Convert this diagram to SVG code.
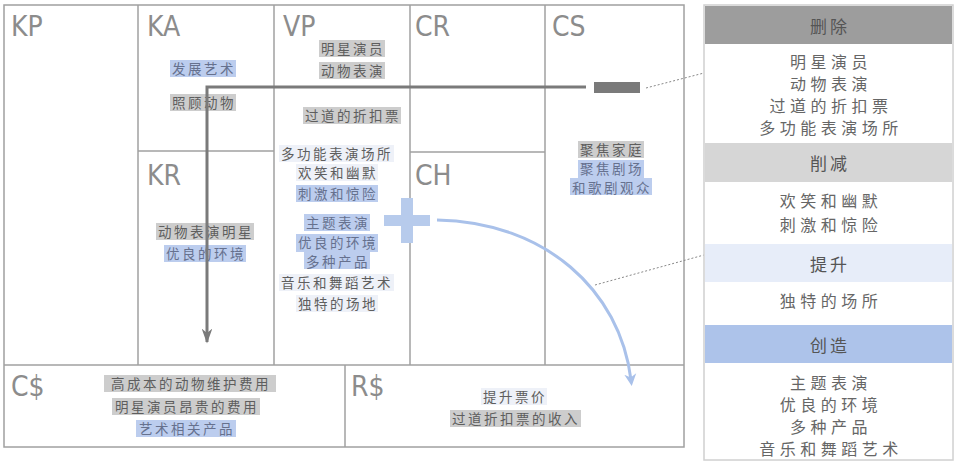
<svg xmlns="http://www.w3.org/2000/svg" width="960" height="469" viewBox="0 0 960 469">
<defs>
<style>
.grid{fill:none;stroke:#a0a0a0;stroke-width:1.5}
.lbl{font-family:"DejaVu Sans Condensed","DejaVu Sans",sans-serif;font-size:28px;font-weight:200;fill:#8c8c8c}
.t{font-family:"Noto Sans CJK SC","Noto Sans",sans-serif;font-size:13.5px;letter-spacing:2.5px;fill:#5e5e5e;text-anchor:middle;dominant-baseline:central}
.tb{fill:#66718e}
.bg-g{fill:#cdcdcd}
.bg-b{fill:#bccdee}
.bg-l{fill:#eef1f8}
.p{font-family:"Noto Sans CJK SC","Noto Sans",sans-serif;font-size:16px;letter-spacing:4.5px;fill:#666;text-anchor:middle;dominant-baseline:central}
.h{font-family:"Noto Sans CJK SC","Noto Sans",sans-serif;font-size:17px;letter-spacing:3px;fill:#555;text-anchor:middle;dominant-baseline:central}
.dot{fill:none;stroke:#888;stroke-width:1;stroke-dasharray:2 2}
</style>
<marker id="ag" viewBox="0 0 10 10" refX="9" refY="5" markerWidth="5" markerHeight="3.6" markerUnits="strokeWidth" orient="auto" preserveAspectRatio="none"><path d="M0,0 L10,5 L0,10 L3,5 Z" fill="#7a7a7a"/></marker>
<marker id="ab" viewBox="0 0 10 10" refX="5" refY="5" markerWidth="4" markerHeight="5" markerUnits="strokeWidth" orient="auto"><path d="M0,0 L10,5 L0,10 L3,5 Z" fill="#a9c1ea"/></marker>
</defs>
<rect width="960" height="469" fill="#ffffff"/>

<g id="canvas-frame">
<rect class="grid" x="4" y="5" width="680" height="442"/>
<line class="grid" x1="4" y1="365" x2="684" y2="365"/>
<line class="grid" x1="138" y1="5" x2="138" y2="365"/>
<line class="grid" x1="274" y1="5" x2="274" y2="365"/>
<line class="grid" x1="410" y1="5" x2="410" y2="365"/>
<line class="grid" x1="545" y1="5" x2="545" y2="365"/>
<line class="grid" x1="138" y1="151" x2="274" y2="151"/>
<line class="grid" x1="410" y1="152" x2="545" y2="152"/>
<line class="grid" x1="345" y1="365" x2="345" y2="447"/>
</g>

<g id="KP"><text class="lbl" x="11" y="36">KP</text></g>

<g id="KA">
<text class="lbl" x="147" y="36">KA</text>
<rect class="bg-b" x="170" y="60" width="66" height="17"/><text class="t tb" x="204" y="68">发展艺术</text>
<rect class="bg-g" x="170" y="94" width="66" height="17"/><text class="t" x="204" y="102">照顾动物</text>
</g>

<g id="KR">
<text class="lbl" x="147" y="185">KR</text>
<rect class="bg-g" x="156" y="223" width="98" height="17"/><text class="t" x="206" y="231">动物表演明星</text>
<rect class="bg-b" x="164" y="245" width="82" height="17"/><text class="t tb" x="206" y="253">优良的环境</text>
</g>

<g id="VP">
<text class="lbl" x="283" y="36">VP</text>
<rect class="bg-g" x="319" y="40" width="66" height="17"/><text class="t" x="353" y="48">明星演员</text>
<rect class="bg-g" x="319" y="62" width="66" height="17"/><text class="t" x="353" y="70">动物表演</text>
<rect class="bg-g" x="303" y="107" width="98" height="17"/><text class="t" x="353" y="115">过道的折扣票</text>
<rect class="bg-l" x="279" y="145" width="115" height="17"/><text class="t" x="337" y="153">多功能表演场所</text>
<rect class="bg-l" x="296" y="164" width="82" height="17"/><text class="t" x="338" y="172">欢笑和幽默</text>
<rect class="bg-b" x="296" y="185" width="82" height="17"/><text class="t tb" x="338" y="193">刺激和惊险</text>
<rect class="bg-b" x="304" y="214" width="66" height="17"/><text class="t tb" x="338" y="222">主题表演</text>
<rect class="bg-b" x="296" y="234" width="82" height="18"/><text class="t tb" x="338" y="242">优良的环境</text>
<rect class="bg-b" x="304" y="252" width="66" height="17"/><text class="t tb" x="338" y="261">多种产品</text>
<rect class="bg-l" x="279" y="274" width="115" height="17"/><text class="t" x="337" y="282">音乐和舞蹈艺术</text>
<rect class="bg-l" x="296" y="295" width="82" height="17"/><text class="t" x="338" y="303">独特的场地</text>
</g>

<g id="CR"><text class="lbl" x="415" y="36">CR</text></g>

<g id="CH">
<text class="lbl" x="415" y="185">CH</text>
<g id="plus" fill="#b7cbec">
<rect x="384" y="215" width="46" height="11"/>
<rect x="401" y="198" width="12" height="45"/>
</g>
</g>

<g id="CS">
<text class="lbl" x="552" y="36">CS</text>
<rect class="bg-g" x="578" y="141" width="66" height="17"/><text class="t" x="612" y="149">聚焦家庭</text>
<rect class="bg-b" x="578" y="160" width="66" height="18"/><text class="t tb" x="612" y="168">聚焦剧场</text>
<rect class="bg-b" x="570" y="178" width="82" height="17"/><text class="t tb" x="612" y="187">和歌剧观众</text>
<rect id="minus" x="594" y="82" width="46" height="11" fill="#7a7a7a"/>
</g>

<g id="Cost">
<text class="lbl" x="11" y="396">C$</text>
<rect class="bg-g" x="104" y="375" width="172" height="17"/><text class="t" x="191" y="383">高成本的动物维护费用</text>
<rect class="bg-g" x="112" y="398" width="148" height="17"/><text class="t" x="187" y="406">明星演员昂贵的费用</text>
<rect class="bg-b" x="136" y="420" width="100" height="17"/><text class="t tb" x="187" y="428">艺术相关产品</text>
</g>

<g id="Revenue">
<text class="lbl" x="351" y="396">R$</text>
<rect class="bg-l" x="481" y="388" width="66" height="17"/><text class="t" x="515" y="396">提升票价</text>
<rect class="bg-g" x="450" y="410" width="131" height="17"/><text class="t" x="516" y="418">过道折扣票的收入</text>
</g>

<g id="connectors">
<path d="M586,87 H207 V342" fill="none" stroke="#7a7a7a" stroke-width="3" marker-end="url(#ag)"/>
<path d="M437,220 C545,222 620,290 631,380" fill="none" stroke="#a9c1ea" stroke-width="3" marker-end="url(#ab)"/>
<path class="dot" d="M646,88 L704,73"/>
<path class="dot" d="M595,285 L704,255"/>
</g>

<g id="errc-panel">
<rect x="704" y="5" width="249" height="455" fill="#fff" stroke="#d0d0d0" stroke-width="1.5"/>
<g id="eliminate">
<rect x="705" y="6" width="247" height="38" fill="#9d9d9d"/>
<text class="h" x="830" y="25">删除</text>
<text class="p" x="831" y="61">明星演员</text>
<text class="p" x="831" y="83">动物表演</text>
<text class="p" x="831" y="105">过道的折扣票</text>
<text class="p" x="831" y="127">多功能表演场所</text>
</g>
<g id="reduce">
<rect x="705" y="143" width="247" height="39" fill="#d6d6d6"/>
<text class="h" x="830" y="162">削减</text>
<text class="p" x="831" y="200">欢笑和幽默</text>
<text class="p" x="831" y="224">刺激和惊险</text>
</g>
<g id="raise">
<rect x="705" y="244" width="247" height="38" fill="#e7edf9"/>
<text class="h" x="830" y="263">提升</text>
<text class="p" x="831" y="300">独特的场所</text>
</g>
<g id="create">
<rect x="705" y="325" width="247" height="38" fill="#adc3ea"/>
<text class="h" x="830" y="344">创造</text>
<text class="p" x="831" y="382">主题表演</text>
<text class="p" x="831" y="404">优良的环境</text>
<text class="p" x="831" y="426">多种产品</text>
<text class="p" x="831" y="448">音乐和舞蹈艺术</text>
</g>
</g>
</svg>
